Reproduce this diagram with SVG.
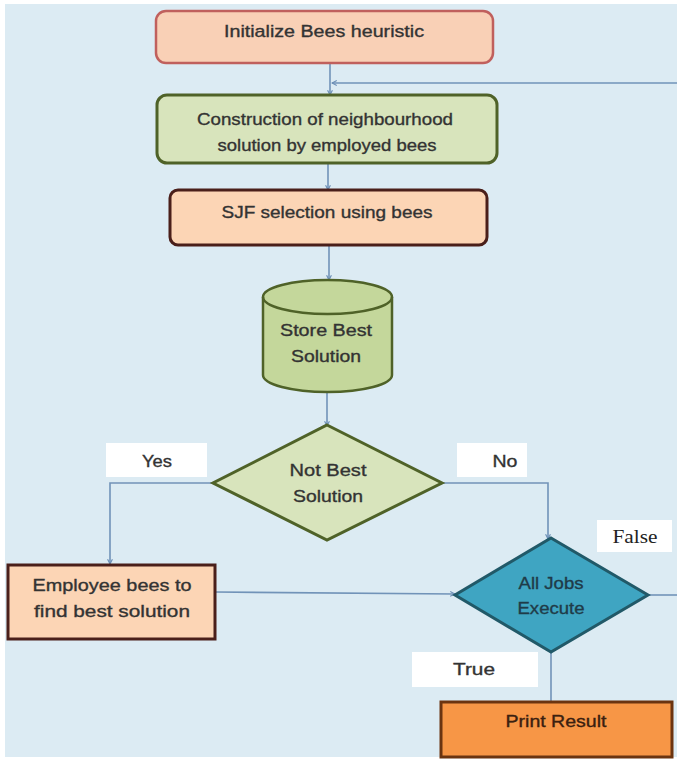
<svg xmlns="http://www.w3.org/2000/svg" width="677" height="759" viewBox="0 0 677 759">
  <defs>
    <marker id="arrow" viewBox="0 0 10 10" refX="9" refY="5" markerWidth="6" markerHeight="6" orient="auto-start-reverse" markerUnits="userSpaceOnUse">
      <path d="M1,1 L9,5 L1,9" fill="none" stroke="#6a8db5" stroke-width="1.8"/>
    </marker>
    <style>
      .t { font-family: "Liberation Sans", Arial, sans-serif; font-size: 17px; fill: #333333; stroke: #333333; stroke-width: 0.35; text-anchor: middle; }
      .serif { font-family: "Liberation Serif", "Times New Roman", serif; font-size: 18px; fill: #222222; text-anchor: middle; }
      .conn { fill: none; stroke: #7193b8; stroke-width: 1.6; }
      .lbl { fill: #ffffff; stroke: none; }
      .dark { fill: #1f3b48; stroke: #1f3b48; }
      .brown { fill: #3a2010; stroke: #3a2010; }
    </style>
  </defs>

  <!-- page background -->
  <rect x="0" y="0" width="677" height="759" fill="#ffffff"/>
  <rect x="5" y="4" width="672" height="753" fill="#dcebf3"/>

  <!-- connectors -->
  <g id="connectors">
    <path class="conn" d="M330,63 L330,95" marker-end="url(#arrow)"/>
    <path class="conn" d="M677,83 L332,83" marker-end="url(#arrow)"/>
    <path class="conn" d="M328,163 L328,190" marker-end="url(#arrow)"/>
    <path class="conn" d="M329,245 L329,280" marker-end="url(#arrow)"/>
    <path class="conn" d="M327,392 L327,426" marker-end="url(#arrow)"/>
    <path class="conn" d="M213,483 L110,483 L110,564" marker-end="url(#arrow)"/>
    <path class="conn" d="M442,483 L548,483 L548,539" marker-end="url(#arrow)"/>
    <path class="conn" d="M215,592 L455,594" marker-end="url(#arrow)"/>
    <path class="conn" d="M648,595 L677,595"/>
    <path class="conn" d="M551,652 L551,702"/>
  </g>

  <!-- edge labels -->
  <g id="label-yes">
    <rect class="lbl" x="106" y="443" width="101" height="34"/>
    <text class="t" x="157" y="467" textLength="30" lengthAdjust="spacingAndGlyphs">Yes</text>
  </g>
  <g id="label-no">
    <rect class="lbl" x="457" y="443" width="70" height="34"/>
    <text class="t" x="505" y="467" textLength="25" lengthAdjust="spacingAndGlyphs">No</text>
  </g>
  <g id="label-false">
    <rect class="lbl" x="597" y="520" width="75" height="32"/>
    <text class="serif" x="635" y="543" textLength="45" lengthAdjust="spacingAndGlyphs">False</text>
  </g>
  <g id="label-true">
    <rect class="lbl" x="412" y="652" width="126" height="35"/>
    <text class="t" x="474" y="675" textLength="42" lengthAdjust="spacingAndGlyphs">True</text>
  </g>

  <!-- nodes -->
  <g id="init">
    <rect x="156" y="11" width="337" height="52" rx="10" fill="#f9d0b6" stroke="#c0605d" stroke-width="2.5"/>
    <text class="t" x="324" y="37" textLength="200" lengthAdjust="spacingAndGlyphs">Initialize Bees heuristic</text>
  </g>

  <g id="construct">
    <rect x="157" y="95" width="340" height="68" rx="10" fill="#d8e4bc" stroke="#4f6228" stroke-width="3"/>
    <text class="t" x="325" y="125" textLength="256" lengthAdjust="spacingAndGlyphs">Construction of neighbourhood</text>
    <text class="t" x="327" y="151" textLength="219" lengthAdjust="spacingAndGlyphs">solution by employed bees</text>
  </g>

  <g id="sjf">
    <rect x="170" y="190" width="317" height="55" rx="8" fill="#fcd5b5" stroke="#4a1f1a" stroke-width="3"/>
    <text class="t" x="327" y="218" textLength="211" lengthAdjust="spacingAndGlyphs">SJF selection using bees</text>
  </g>

  <g id="store">
    <path d="M263,297 A64.5,17 0 0 1 392,297 L392,375 A64.5,17 0 0 1 263,375 Z" fill="#c4d79b" stroke="#4f6228" stroke-width="2.5"/>
    <path d="M263,297 A64.5,17 0 0 0 392,297" fill="none" stroke="#4f6228" stroke-width="2.5"/>
    <text class="t" x="326" y="336" textLength="92" lengthAdjust="spacingAndGlyphs">Store Best</text>
    <text class="t" x="326" y="362" textLength="70" lengthAdjust="spacingAndGlyphs">Solution</text>
  </g>

  <g id="not-best">
    <polygon points="327,425 442,483 327,540 213,483" fill="#d8e4bc" stroke="#4f6228" stroke-width="3"/>
    <text class="t" x="328" y="476" textLength="77" lengthAdjust="spacingAndGlyphs">Not Best</text>
    <text class="t" x="328" y="502" textLength="70" lengthAdjust="spacingAndGlyphs">Solution</text>
  </g>

  <g id="employee">
    <rect x="8" y="565" width="207" height="74" fill="#fcd5b5" stroke="#4a1f1a" stroke-width="3"/>
    <text class="t" x="112" y="591" textLength="159" lengthAdjust="spacingAndGlyphs">Employee bees to</text>
    <text class="t" x="112" y="617" textLength="156" lengthAdjust="spacingAndGlyphs">find best solution</text>
  </g>

  <g id="all-jobs">
    <polygon points="551,538 648,595 551,652 455,595" fill="#3fa5c2" stroke="#215968" stroke-width="3"/>
    <text class="t dark" x="551" y="589" textLength="65" lengthAdjust="spacingAndGlyphs">All Jobs</text>
    <text class="t dark" x="551" y="614" textLength="67" lengthAdjust="spacingAndGlyphs">Execute</text>
  </g>

  <g id="print">
    <rect x="441" y="702" width="231" height="55" fill="#f79646" stroke="#6b3410" stroke-width="3"/>
    <text class="t brown" x="556" y="727" textLength="101" lengthAdjust="spacingAndGlyphs">Print Result</text>
  </g>
</svg>
